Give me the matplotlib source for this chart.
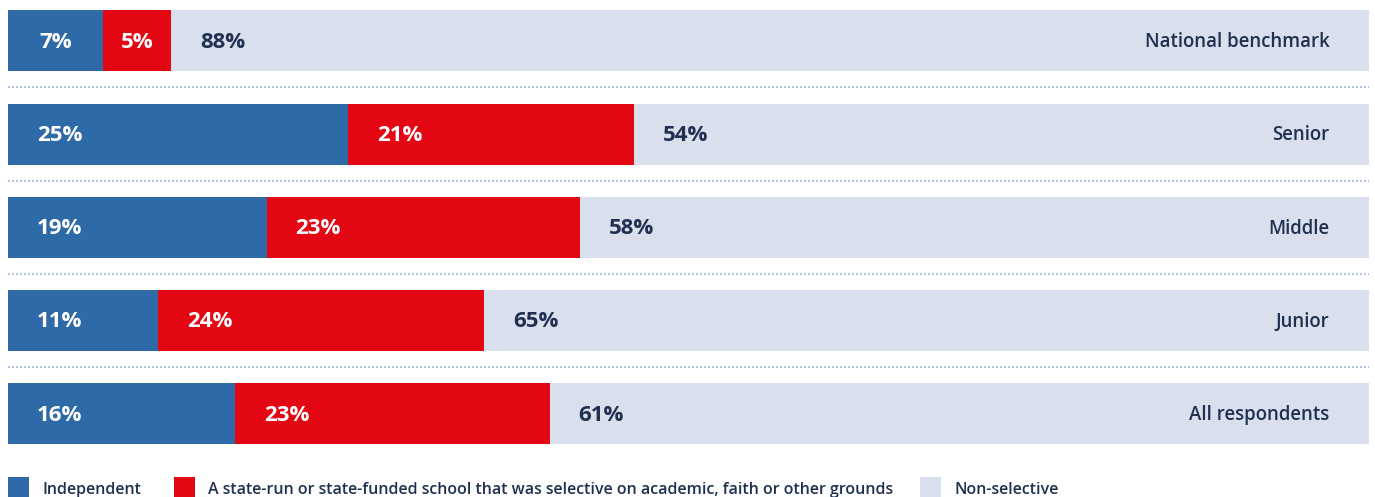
import numpy as np
import matplotlib.pyplot as plt
from matplotlib.patches import Rectangle

# data
categories = ['National benchmark', 'Senior', 'Middle', 'Junior', 'All respondents']
# bar lengths (as drawn) and the printed labels
independent = [7, 25, 19, 11, 16.7]
selective = [5, 21, 23, 24, 23.1]
non_selective = [88, 54, 58, 65, 60.2]
independent_lbl = ['7%', '25%', '19%', '11%', '16%']
selective_lbl = ['5%', '21%', '23%', '24%', '23%']
non_selective_lbl = ['88%', '54%', '58%', '65%', '61%']
series_names = ['Independent',
                'A state-run or state-funded school that was selective on academic, faith or other grounds',
                'Non-selective']

colors = ['#2e6aa8', '#e30613', '#d9dfec']
txt_colors = ['white', 'white', '#1f3050']
dark = '#1f3050'

plt.rcParams['font.family'] = ['Open Sans', 'DejaVu Sans']

fig = plt.figure(figsize=(13.75, 4.97), dpi=100)
ax = fig.add_axes([8/1375, (497-460.4)/497, 1361/1375, 459.7/497])

y = np.arange(len(categories))
h = 0.654
dy = 0.015  # nudge text down a touch
left = np.zeros(len(categories))
for vals, lbls, c, tc in zip([independent, selective, non_selective],
                             [independent_lbl, selective_lbl, non_selective_lbl],
                             colors, txt_colors):
    vals = np.array(vals, dtype=float)
    ax.barh(y, vals, left=left, height=h, color=c, linewidth=0)
    for yi, l, v, s in zip(y, left, vals, lbls):
        cx = l + min(v / 2, 3.8)
        ax.text(cx, yi + dy, s, ha='center', va='center', color=tc,
                fontsize=16, fontweight='bold')
    left += vals

for yi, cat in zip(y, categories):
    ax.text(97.1, yi + dy, cat, ha='right', va='center', color=dark,
            fontsize=13.4, fontweight='semibold')

# dotted separators
for yi in y[:-1]:
    ax.plot([0, 100], [yi + 0.5, yi + 0.5], color='#9fbadb', lw=1.2,
            linestyle=(0, (1.2, 1.2)))

ax.set_xlim(0, 100)
ax.set_ylim(4.5, -0.43)
ax.axis('off')

# legend drawn by hand
legend_x = [8, 174, 920]
for x0, c, name in zip(legend_x, colors, series_names):
    fig.patches.append(Rectangle((x0/1375, 0), 21/1375, 20/497, transform=fig.transFigure,
                                 color=c, linewidth=0))
    fig.text((x0 + 34)/1375, 7/497, name, ha='left', va='center', color=dark,
             fontsize=11.5, fontweight='semibold')

fig.savefig('out.png', dpi=100)
